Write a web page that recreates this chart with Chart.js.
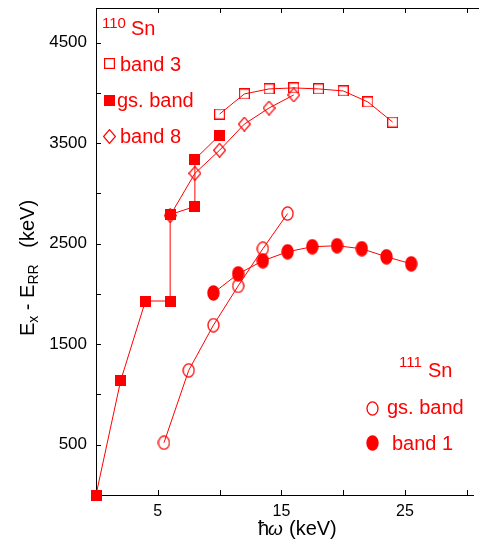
<!DOCTYPE html>
<html lang="en">
<head>
<meta charset="UTF-8">
<title>Sn bandas</title>
<script src="https://cdn.jsdelivr.net/npm/chart.js@4.4.0/dist/chart.umd.min.js"></script>
<style>
    body { margin: 0; background: #fff; }
</style>
</head>
<body>
<canvas id="grafica" width="479" height="545"></canvas>
<script>
// 110Sn
var gs110X = [0, 2, 4, 6, 6, 8, 8, 10];
var gs110Y = [0, 1140, 1930, 1930, 2790, 2870, 3340, 3580];
var band3X = [10, 12, 14, 16, 18, 20, 22, 24];
var band3Y = [3790, 3990, 4040, 4050, 4040, 4020, 3910, 3710];
var band8X = [6, 8, 10, 12, 14, 16];
var band8Y = [2780, 3200, 3430, 3690, 3850, 3980];
// 111Sn
var gs111X = [5.5, 7.5, 9.5, 11.5, 13.5, 15.5];
var gs111Y = [520, 1240, 1690, 2080, 2450, 2800];
var band1X = [9.5, 11.5, 13.5, 15.5, 17.5, 19.5, 21.5, 23.5, 25.5];
var band1Y = [2010, 2200, 2330, 2420, 2470, 2480, 2450, 2370, 2300];

// ejes
var xTicks = [5, 10, 15, 20, 25, 30];
var xLabels = [5, 15, 25];
var yTicks = [500, 1000, 1500, 2000, 2500, 3000, 3500, 4000, 4500];
var yLabels = [500, 1500, 2500, 3500, 4500];

var rojo = 'rgb(255, 0, 0)';
var fuente = '"Liberation Sans", Arial, Helvetica, sans-serif';

function puntos(xs, ys) {
    return xs.map(function (x, i) { return {x: x, y: ys[i]}; });
}

// marcadores dibujados en canvas pequenos
function marca(tipo) {
    var c = document.createElement('canvas');
    var g;
    if (tipo === 'cuadroLleno') {
        c.width = 11; c.height = 11;
        g = c.getContext('2d');
        g.fillStyle = rojo;
        g.fillRect(0, 0, 11, 11);
    } else if (tipo === 'cuadro') {
        c.width = 11; c.height = 11;
        g = c.getContext('2d');
        g.strokeStyle = rojo; g.lineWidth = 1.2;
        g.strokeRect(0.6, 0.6, 9.8, 9.8);
    } else if (tipo === 'rombo') {
        c.width = 13; c.height = 15;
        g = c.getContext('2d');
        g.strokeStyle = rojo; g.lineWidth = 1.2;
        g.beginPath();
        g.moveTo(6.5, 0.6); g.lineTo(12.4, 7.5); g.lineTo(6.5, 14.4); g.lineTo(0.6, 7.5);
        g.closePath(); g.stroke();
    } else if (tipo === 'circulo') {
        c.width = 13; c.height = 15;
        g = c.getContext('2d');
        g.strokeStyle = rojo; g.lineWidth = 1.3;
        g.beginPath(); g.ellipse(6.5, 7.5, 5.5, 6.6, 0, 0, Math.PI * 2); g.stroke();
    } else {
        c.width = 13; c.height = 16;
        g = c.getContext('2d');
        g.fillStyle = rojo;
        g.beginPath(); g.ellipse(6.5, 8, 6.2, 7.7, 0, 0, Math.PI * 2); g.fill();
    }
    return c;
}

function serie(nombre, xs, ys, tipo) {
    return {
        label: nombre,
        data: puntos(xs, ys),
        showLine: true,
        borderColor: rojo,
        borderWidth: 1,
        backgroundColor: rojo,
        pointStyle: marca(tipo),
        pointRadius: 5,
        fill: false,
        clip: false
    };
}

var datasets = [
    serie('band 3', band3X, band3Y, 'cuadro'),
    serie('gs. band', gs110X, gs110Y, 'cuadroLleno'),
    serie('band 8', band8X, band8Y, 'rombo'),
    serie('gs. band', gs111X, gs111Y, 'circulo'),
    serie('band 1', band1X, band1Y, 'circuloLleno')
];

// textos, ticks hacia dentro y leyendas
var extras = {
    id: 'extras',
    afterDraw: function (chart) {
        var ctx = chart.ctx;
        var a = chart.chartArea;
        var sx = chart.scales.x, sy = chart.scales.y;
        ctx.save();
        // linea superior
        ctx.strokeStyle = '#000';
        ctx.lineWidth = 1;
        ctx.beginPath();
        ctx.moveTo(a.left, a.top + 0.5);
        ctx.lineTo(chart.width, a.top + 0.5);
        xTicks.forEach(function (v) {
            var px = Math.round(sx.getPixelForValue(v)) + 0.5;
            ctx.moveTo(px, a.bottom); ctx.lineTo(px, a.bottom - 5);
            ctx.moveTo(px, a.top); ctx.lineTo(px, a.top + 5);
        });
        yTicks.forEach(function (v) {
            var py = Math.round(sy.getPixelForValue(v)) + 0.5;
            ctx.moveTo(a.left, py); ctx.lineTo(a.left + 5, py);
        });
        ctx.stroke();

        // titulos de los ejes
        ctx.fillStyle = '#000';
        ctx.textBaseline = 'alphabetic';
        ctx.font = '20px ' + fuente;
        ctx.fillText('\u0127', 258, 535);
        ctx.font = 'italic 19px ' + fuente;
        ctx.fillText('\u03c9', 268, 535);
        ctx.font = '20px ' + fuente;
        ctx.fillText('(keV)', 289, 535);

        var partes = [
            ['E', 20, 0], ['x', 14, 4], [' - E', 20, 0], ['RR', 14, 4], ['   (keV)', 20, 0]
        ];
        var total = 0;
        partes.forEach(function (p) { ctx.font = p[1] + 'px ' + fuente; total += ctx.measureText(p[0]).width; });
        ctx.translate(34, 268);
        ctx.rotate(-Math.PI / 2);
        var pos = -total / 2;
        partes.forEach(function (p) {
            ctx.font = p[1] + 'px ' + fuente;
            ctx.fillText(p[0], pos, p[2]);
            pos += ctx.measureText(p[0]).width;
        });
        ctx.setTransform(1, 0, 0, 1, 0, 0);

        // leyendas
        ctx.fillStyle = rojo;
        ctx.font = '15px ' + fuente;
        ctx.fillText('110', 102, 28);
        ctx.font = '20px ' + fuente;
        ctx.fillText('Sn', 131, 35);
        ctx.font = '15px ' + fuente;
        ctx.fillText('111', 399, 367);
        ctx.font = '20px ' + fuente;
        ctx.fillText('Sn', 428, 377);

        var items = [
            [0, 109.5, 63.5, 120, 70.5],
            [1, 109.5, 100, 117, 107],
            [2, 109.5, 136.5, 120, 143],
            [3, 372, 408, 387, 414],
            [4, 372, 443, 392, 450]
        ];
        items.forEach(function (it) {
            var ds = chart.data.datasets[it[0]];
            var img = ds.pointStyle;
            ctx.drawImage(img, Math.round(it[1] - img.width / 2), Math.round(it[2] - img.height / 2));
            ctx.fillText(ds.label, it[3], it[4]);
        });
        ctx.restore();
    }
};

var ctx = document.getElementById('grafica').getContext('2d');
var chart = new Chart(ctx, {
    type: 'scatter',
    data: { datasets: datasets },
    options: {
        responsive: false,
        animation: false,
        layout: { padding: { top: 8, right: 0, left: 0, bottom: 0 } },
        plugins: { legend: { display: false }, tooltip: { enabled: false } },
        scales: {
            x: {
                type: 'linear',
                min: 0,
                max: 30.5,
                afterBuildTicks: function (s) { s.ticks = xTicks.map(function (v) { return {value: v}; }); },
                afterFit: function (s) { s.height = 50; s.paddingLeft = 0; s.paddingRight = 0; },
                ticks: {
                    autoSkip: false, maxRotation: 0, padding: 7, color: '#000',
                    font: { family: fuente, size: 16 },
                    callback: function (v) { return xLabels.indexOf(v) >= 0 ? String(v) : ''; }
                },
                grid: { display: false, drawTicks: false },
                border: { display: true, color: '#000', width: 1 }
            },
            y: {
                type: 'linear',
                min: 0,
                max: 4845,
                afterBuildTicks: function (s) { s.ticks = yTicks.map(function (v) { return {value: v}; }); },
                afterFit: function (s) { s.width = 96; s.paddingTop = 0; s.paddingBottom = 0; },
                ticks: {
                    autoSkip: false, padding: 9, color: '#000',
                    font: { family: fuente, size: 17 },
                    callback: function (v) { return yLabels.indexOf(v) >= 0 ? String(v) : ''; }
                },
                grid: { display: false, drawTicks: false },
                border: { display: true, color: '#000', width: 1 }
            }
        }
    },
    plugins: [extras]
});
</script>
</body>
</html>
